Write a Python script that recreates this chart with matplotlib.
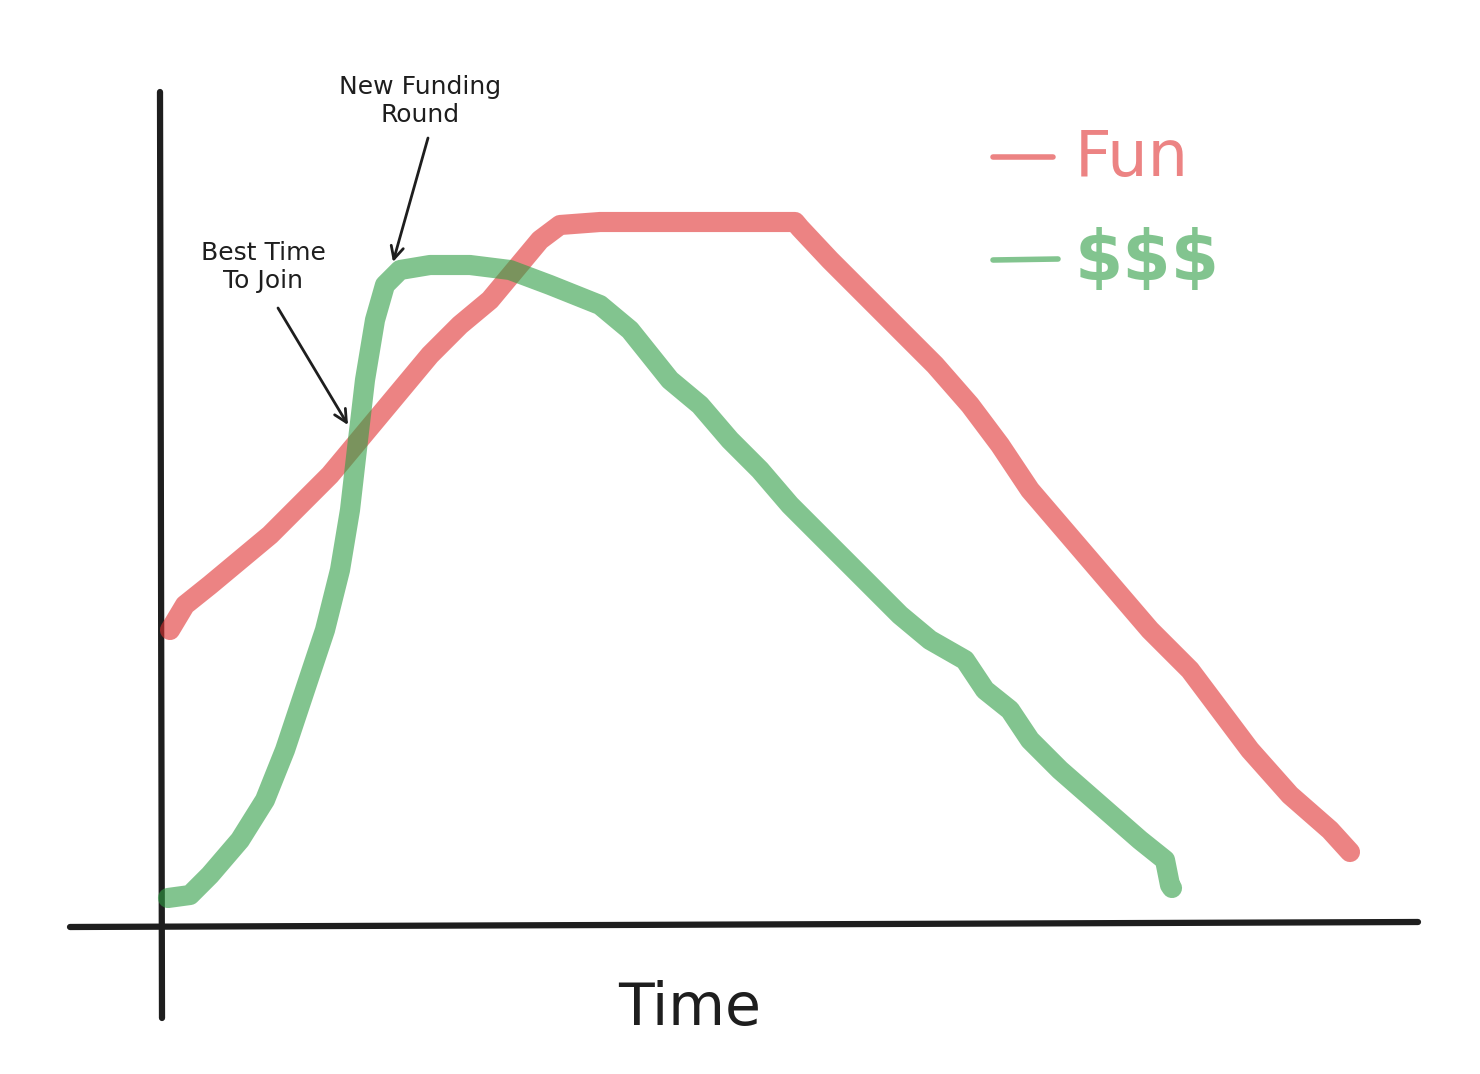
import matplotlib
matplotlib.use("Agg")
import matplotlib.pyplot as plt

# Frame: time measured from the y-axis, value measured up from the x-axis (picture units)
fun_t = [10, 25, 50, 80, 110, 140, 170, 195, 220, 245, 270, 300, 330, 355, 380, 400,
         440, 490, 540, 590, 635, 640, 670, 710, 740, 775, 810, 840, 870, 900, 930,
         960, 990, 1030, 1060, 1090, 1130, 1170, 1190]
fun_v = [295, 320, 340, 365, 390, 420, 450, 480, 510, 540, 570, 600, 625, 655, 685, 700,
         703, 703, 703, 703, 703, 697, 665, 625, 595, 560, 520, 480, 435, 400, 365,
         330, 295, 255, 215, 175, 130, 95, 73]

cash_t = [8, 30, 50, 80, 105, 125, 145, 165, 180, 190, 198, 205, 215, 225, 240, 270,
          310, 350, 390, 440, 470, 510, 540, 570, 600, 630, 670, 710, 740, 770, 805,
          825, 850, 870, 900, 940, 980, 1005, 1010, 1012]
cash_v = [27, 30, 50, 85, 125, 175, 235, 295, 355, 415, 485, 545, 605, 640, 655, 660,
          660, 655, 640, 620, 595, 545, 520, 485, 455, 420, 380, 340, 310, 285, 265,
          235, 215, 185, 155, 120, 85, 65, 40, 37]

series_names = ["Fun", "$$$"]
xlabel = "Time"
notes = ["Best Time\nTo Join", "New Funding\nRound"]

RED = "#e03131"
GREEN = "#2f9e44"
INK = "#1e1e1e"

fig = plt.figure(figsize=(14.8, 10.74), dpi=100)
ax = fig.add_axes([0, 0, 1, 1])
ax.set_xlim(-160, 1320)
ax.set_ylim(-149, 925)
ax.axis("off")

# hand-drawn axes
ax.plot([0, 2], [833, -93], color=INK, lw=4.5, solid_capstyle="round")
ax.plot([-90, 1258], [-2, 3], color=INK, lw=4.5, solid_capstyle="round")

ax.plot(fun_t, fun_v, color=RED, alpha=0.6, lw=14.5, solid_capstyle="round",
        solid_joinstyle="round")
ax.plot(cash_t, cash_v, color=GREEN, alpha=0.6, lw=14.5, solid_capstyle="round",
        solid_joinstyle="round")

# annotations
arrow = dict(arrowstyle="->,head_length=0.9,head_width=0.45",
             color=INK, lw=2, shrinkA=0, shrinkB=0)
ax.text(103, 658, notes[0], ha="center", va="center", fontsize=18, color=INK,
        linespacing=1.25)
ax.annotate("", xy=(188, 500), xytext=(118, 617), arrowprops=arrow)
ax.text(260, 824, notes[1], ha="center", va="center", fontsize=18, color=INK,
        linespacing=1.25)
ax.annotate("", xy=(233, 663), xytext=(268, 787), arrowprops=arrow)

# hand-drawn legend
ax.plot([833, 893], [768, 768], color=RED, alpha=0.6, lw=4, solid_capstyle="round")
ax.plot([833, 898], [665, 666], color=GREEN, alpha=0.6, lw=4, solid_capstyle="round")
ax.text(915, 767, series_names[0], color=RED, alpha=0.6, fontsize=46,
        ha="left", va="center")
ax.text(915, 665, series_names[1], color=GREEN, alpha=0.6, fontsize=50,
        fontweight="bold", ha="left", va="center")

ax.text(530, -83, xlabel, color=INK, fontsize=42, ha="center", va="center")

fig.savefig("out.png", dpi=100, facecolor="white")
